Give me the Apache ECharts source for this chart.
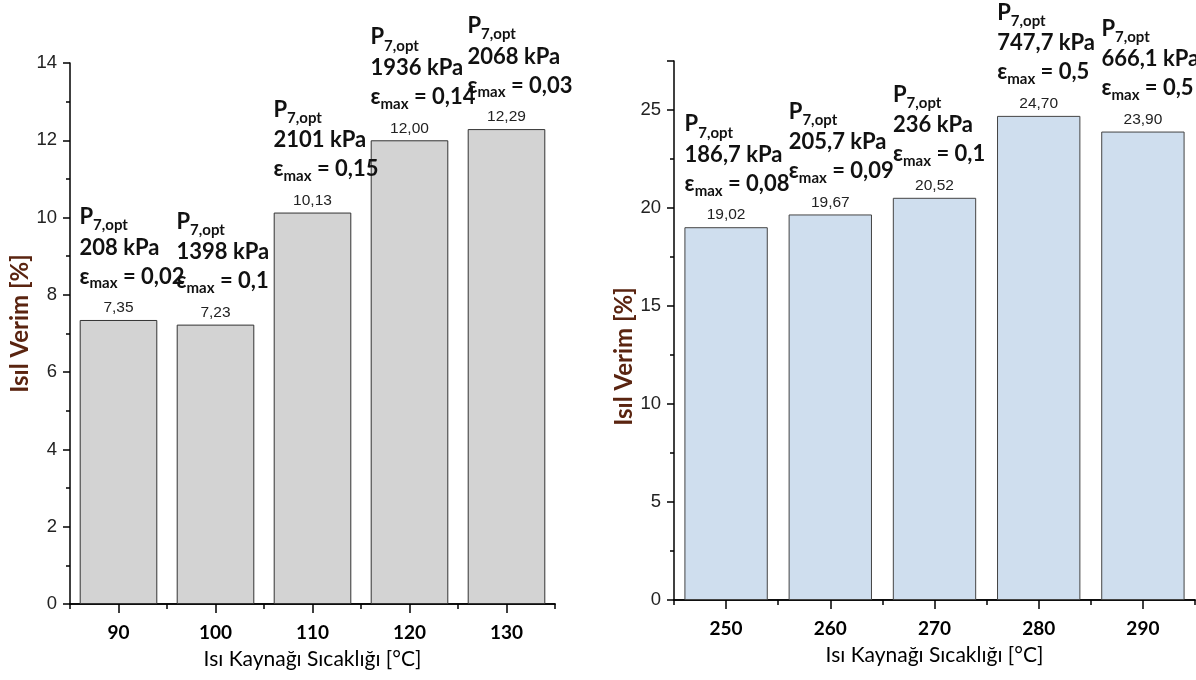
<!DOCTYPE html>
<html>
<head>
<meta charset="utf-8">
<script src="https://cdn.jsdelivr.net/npm/echarts@6/dist/echarts.min.js"></script>
<style>
  html, body { margin: 0; padding: 0; background: #fff; }
  #chart { width: 1196px; height: 680px; }
</style>
</head>
<body>
<div id="chart"></div>
<script>
// Low-temperature source cases
const leftTemps = ['90', '100', '110', '120', '130'];
const leftEfficiency = [7.35, 7.23, 10.13, 12.00, 12.29];
const leftPressure = ['208', '1398', '2101', '1936', '2068'];
const leftEpsilon = ['0,02', '0,1', '0,15', '0,14', '0,03'];

// High-temperature source cases
const rightTemps = ['250', '260', '270', '280', '290'];
const rightEfficiency = [19.02, 19.67, 20.52, 24.70, 23.90];
const rightPressure = ['186,7', '205,7', '236', '747,7', '666,1'];
const rightEpsilon = ['0,08', '0,09', '0,1', '0,5', '0,5'];

const yTitle = 'Isıl Verim [%]';
const xTitle = 'Isı Kaynağı Sıcaklığı [°C]';

const AX = '#000';
const annoFont = 'Lato';
const titleFont = 'Lato';
const numFont = 'Liberation Sans';

const rich = {
  P:   { fontFamily: annoFont, fontWeight: 'bold', fontSize: 22, lineHeight: 32, color: '#111', align: 'left' },
  sub: { fontFamily: annoFont, fontWeight: 'bold', fontSize: 15, lineHeight: 24, verticalAlign: 'bottom', color: '#111', align: 'left' },
  t:   { fontFamily: annoFont, fontWeight: 'bold', fontSize: 22, lineHeight: 29, color: '#111', align: 'left' },
  v:   { fontFamily: numFont, fontSize: 15.5, lineHeight: 34, color: '#222', align: 'center' }
};

function fmtValue(v) {
  return v.toFixed(2).replace('.', ',');
}

function makeLabel(pressures, epsilons, width) {
  return {
    show: true,
    position: 'top',
    distance: -5,
    width: width,
    overflow: 'none',
    rich: rich,
    formatter: function (p) {
      const i = p.dataIndex;
      return [
        '{P|P}{sub|7,opt}',
        '{t|' + pressures[i] + ' kPa}',
        '{t|ε}{sub|max}{t| = ' + epsilons[i] + '}',
        '{v|' + fmtValue(p.value) + '}'
      ].join('\n');
    }
  };
}

function valueAxis(grid, max, interval, namePadding, nameGap) {
  return {
    gridIndex: grid,
    type: 'value',
    min: 0,
    max: max,
    interval: interval,
    axisLine: { show: true, lineStyle: { color: AX, width: 1.5 } },
    axisTick: { show: true, inside: false, length: 7, lineStyle: { color: AX, width: 1.5 } },
    minorTick: { show: true, splitNumber: 2, length: 4, lineStyle: { color: AX, width: 1.5 } },
    splitLine: { show: false },
    minorSplitLine: { show: false },
    axisLabel: { fontFamily: numFont, fontSize: 18.5, color: '#222', margin: 13, showMaxLabel: max % interval === 0 },
    name: yTitle,
    nameLocation: 'middle',
    nameRotate: 90,
    nameGap: nameGap,
    nameTextStyle: { fontFamily: titleFont, fontWeight: 'bold', fontSize: 24, color: '#5a2410', padding: namePadding }
  };
}

// Two category axes per panel: one carries the boundary ticks, one the labelled centre ticks
function boundaryAxis(grid, cats) {
  return {
    gridIndex: grid,
    type: 'category',
    data: cats,
    position: 'bottom',
    boundaryGap: true,
    axisLine: { show: true, lineStyle: { color: AX, width: 1.5 } },
    axisTick: { show: true, alignWithLabel: false, length: 5, lineStyle: { color: AX, width: 1.5 } },
    axisLabel: { show: false },
    splitLine: { show: false }
  };
}

function labelAxis(grid, cats) {
  return {
    gridIndex: grid,
    type: 'category',
    data: cats,
    position: 'bottom',
    boundaryGap: true,
    axisLine: { show: true, lineStyle: { color: AX, width: 1.5 } },
    axisTick: { show: true, alignWithLabel: true, length: 9, lineStyle: { color: AX, width: 1.5 } },
    axisLabel: { fontFamily: titleFont, fontWeight: 'bold', fontSize: 19, color: '#000', margin: 19 },
    splitLine: { show: false },
    name: xTitle,
    nameLocation: 'middle',
    nameGap: 45,
    nameTextStyle: { fontFamily: titleFont, fontSize: 21, color: '#000' }
  };
}

const chart = echarts.init(document.getElementById('chart'), null, { renderer: 'canvas' });

chart.setOption({
  animation: false,
  backgroundColor: '#fff',
  grid: [
    { left: 70, right: 641, top: 63, bottom: 76, containLabel: false, outerBoundsMode: 'none' },
    { left: 674, right: 1, top: 61, bottom: 80, containLabel: false, outerBoundsMode: 'none' }
  ],
  xAxis: [
    boundaryAxis(0, leftTemps),
    labelAxis(0, leftTemps),
    boundaryAxis(1, rightTemps),
    labelAxis(1, rightTemps)
  ],
  yAxis: [
    valueAxis(0, 14, 2, [0, 0, 0, 20], 32),
    valueAxis(1, 27.5, 5, [0, 52, 0, 0], 32)
  ],
  series: [
    {
      type: 'bar',
      xAxisIndex: 1,
      yAxisIndex: 0,
      data: leftEfficiency,
      barCategoryGap: '20%',
      itemStyle: { color: '#d3d3d3', borderColor: '#333', borderWidth: 1 },
      label: makeLabel(leftPressure, leftEpsilon, 78)
    },
    {
      type: 'bar',
      xAxisIndex: 3,
      yAxisIndex: 1,
      data: rightEfficiency,
      barCategoryGap: '20%',
      itemStyle: { color: '#cfdeee', borderColor: '#444', borderWidth: 1 },
      label: makeLabel(rightPressure, rightEpsilon, 83)
    }
  ]
});
</script>
</body>
</html>
